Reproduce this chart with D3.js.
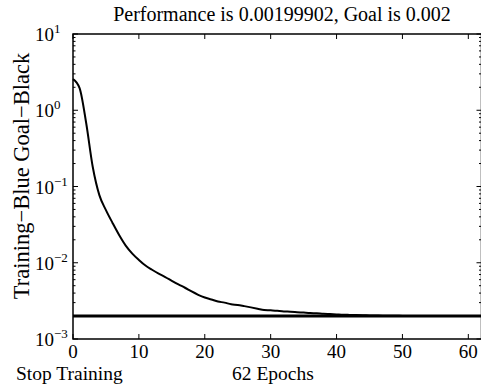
<!DOCTYPE html>
<html>
<head>
<meta charset="utf-8">
<script src="https://cdn.jsdelivr.net/npm/d3@7"></script>
<style>
  html, body { margin: 0; padding: 0; background: #fff; }
  svg { display: block; }
</style>
</head>
<body>
<svg id="chart" width="481" height="386" font-family="Liberation Serif"></svg>
<script>
// training performance per epoch
const epochs = d3.range(0, 63);
const performance = [
  2.56, 1.95, 0.68, 0.18, 0.077, 0.049, 0.0333, 0.0231, 0.0168, 0.0132,
  0.0109, 0.0092, 0.0081, 0.0072, 0.0065, 0.0058, 0.0052, 0.0047, 0.0042, 0.0038,
  0.0035, 0.0033, 0.0031, 0.0030, 0.00285, 0.0028, 0.0027, 0.0026, 0.0025, 0.0024,
  0.00238, 0.00234, 0.0023, 0.00228, 0.00225, 0.00222, 0.00219, 0.00217, 0.00214, 0.00212,
  0.0021, 0.00208, 0.00207, 0.00206, 0.00205, 0.00204, 0.00203, 0.00202, 0.00202, 0.00202,
  0.00201, 0.00201, 0.00201, 0.00201, 0.002, 0.002, 0.002, 0.002, 0.002, 0.002,
  0.002, 0.002, 0.00199902
];
const goal = 0.002;
const xTicks = [0, 10, 20, 30, 40, 50, 60];
const yDecades = [-3, -2, -1, 0, 1];

const title = "Performance is 0.00199902, Goal is 0.002";
const yLabel = "Training\u2212Blue Goal\u2212Black";
const leftNote = "Stop Training";
const epochNote = "62 Epochs";

const svg = d3.select("#chart");
const plotLeft = 73, plotRight = 481.5, plotTop = 34, plotBottom = 339;

const x = d3.scaleLinear().domain([0, 62]).range([plotLeft, plotRight]);
const y = d3.scaleLog().domain([1e-3, 10]).range([plotBottom, plotTop]);

const frame = svg.append("g").attr("stroke", "#000").attr("stroke-width", 1.5).attr("fill", "none");
frame.append("path").attr("d", `M${plotRight},${plotTop}H${plotLeft}V${plotBottom}H${plotRight}`);
frame.append("line").attr("x1", plotRight).attr("x2", plotRight).attr("y1", plotTop).attr("y2", plotBottom);

// x ticks, inside on top and bottom
const ticks = svg.append("g").attr("stroke", "#000").attr("stroke-width", 1);
xTicks.forEach((t) => {
  ticks.append("line").attr("x1", x(t)).attr("x2", x(t)).attr("y1", plotBottom).attr("y2", plotBottom - 5);
  ticks.append("line").attr("x1", x(t)).attr("x2", x(t)).attr("y1", plotTop).attr("y2", plotTop + 5);
});

// y ticks: decades and minor log ticks on both sides
yDecades.forEach((d) => {
  const base = Math.pow(10, d);
  ticks.append("line").attr("x1", plotLeft).attr("x2", plotLeft + 5).attr("y1", y(base)).attr("y2", y(base));
  ticks.append("line").attr("x1", plotRight).attr("x2", plotRight - 5).attr("y1", y(base)).attr("y2", y(base));
  if (d < 1) {
    d3.range(2, 10).forEach((m) => {
      const v = y(base * m);
      ticks.append("line").attr("x1", plotLeft).attr("x2", plotLeft + 2.5).attr("y1", v).attr("y2", v);
      ticks.append("line").attr("x1", plotRight).attr("x2", plotRight - 2.5).attr("y1", v).attr("y2", v);
    });
  }
});

// goal line
svg.append("line")
  .attr("x1", x(0)).attr("x2", x(62))
  .attr("y1", y(goal)).attr("y2", y(goal))
  .attr("stroke", "#000").attr("stroke-width", 3);

// training curve
svg.append("path")
  .datum(epochs.map((e, i) => [e, performance[i]]))
  .attr("fill", "none")
  .attr("stroke", "#000")
  .attr("stroke-width", 2)
  .attr("d", d3.line().curve(d3.curveMonotoneX).x((d) => x(d[0])).y((d) => y(d[1])));

// x tick labels
svg.append("g").selectAll("text").data(xTicks).join("text")
  .attr("x", (d) => x(d))
  .attr("y", 358)
  .attr("text-anchor", "middle")
  .attr("font-size", 19)
  .text((d) => d);

// y tick labels with superscript exponents
yDecades.forEach((d) => {
  const label = svg.append("text")
    .attr("x", 35)
    .attr("y", y(Math.pow(10, d)) + 7)
    .attr("font-size", 19);
  label.append("tspan").text("10");
  label.append("tspan").attr("dy", -8).attr("font-size", 13).text(d < 0 ? "\u2212" + Math.abs(d) : d);
});

svg.append("text")
  .attr("x", 282).attr("y", 21)
  .attr("text-anchor", "middle")
  .attr("font-size", 20)
  .text(title);

svg.append("text")
  .attr("transform", `translate(29,176) rotate(-90)`)
  .attr("text-anchor", "middle")
  .attr("font-size", 22.5)
  .text(yLabel);

svg.append("text").attr("x", 16).attr("y", 380).attr("font-size", 19.5).text(leftNote);
svg.append("text").attr("x", 232).attr("y", 380).attr("font-size", 19.5).text(epochNote);
</script>
</body>
</html>
